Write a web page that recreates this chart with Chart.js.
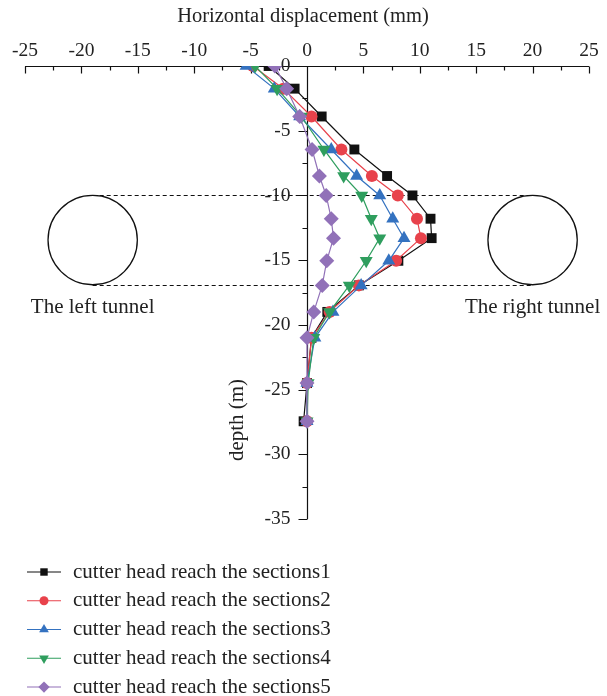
<!DOCTYPE html>
<html>
<head>
<meta charset="utf-8">
<title>Horizontal displacement</title>
<script src="https://cdn.jsdelivr.net/npm/chart.js@4.4.1/dist/chart.umd.min.js"></script>
<style>
  html, body { margin: 0; padding: 0; background: #fff; }
  #wrap { width: 607px; height: 696px; }
</style>
</head>
<body>
<div id="wrap"><canvas id="chart" width="607" height="696"></canvas></div>
<script>
// --- DONNÉES ---

// profondeur des points de mesure (m)
const depths = [0, -1.75, -3.9, -6.45, -8.5, -10, -11.8, -13.3, -15.05, -16.95, -19, -21, -24.5, -27.45];

// déplacement horizontal (mm) pour chaque position du tunnelier
const sections1 = [-3.4, -1.1, 1.3, 4.2, 7.1, 9.35, 10.95, 11.05, 8.1, 4.6, 1.8, 0.4, 0, -0.3];
const sections2 = [-4.8, -2.1, 0.4, 3.05, 5.75, 8.05, 9.75, 10.1, 7.9, 4.6, 2.0, 0.4, 0, 0];
const sections3 = [-5.4, -2.9, -0.65, 2.15, 4.4, 6.45, 7.6, 8.6, 7.25, 4.8, 2.3, 0.7, 0, 0];
const sections4 = [-4.6, -2.65, -0.5, 1.5, 3.25, 4.85, 5.7, 6.45, 5.25, 3.75, 2.0, 0.6, 0.1, 0];
const sections5 = [-2.85, -1.8, -0.65, 0.45, 1.1, 1.7, 2.15, 2.35, 1.75, 1.35, 0.6, 0, 0, 0];

const seriesNames = [
  "cutter head reach the sections1",
  "cutter head reach the sections2",
  "cutter head reach the sections3",
  "cutter head reach the sections4",
  "cutter head reach the sections5"
];

const xTicks = [-25, -20, -15, -10, -5, 0, 5, 10, 15, 20, 25];
const yTicks = [0, -5, -10, -15, -20, -25, -30, -35];

// tunnels : centre horizontal (mm), haut et bas (m)
const tunnelCentres = [-19, 20];
const tunnelTop = -10;
const tunnelBottom = -16.9;
const tunnelNames = ["The left tunnel", "The right tunnel"];

// --- STYLES ---

const SERIF = "'Liberation Serif', 'DejaVu Serif', serif";
const colors = ["#111111", "#e8424b", "#3472c0", "#2f9e5e", "#9171b8"];
const pointStyles = ["rect", "circle", "triangle", "triangle", "rectRot"];
const pointRotations = [0, 0, 0, 180, 0];
const pointRadii = [7, 6, 7.5, 7.5, 7.5];

const allSeries = [sections1, sections2, sections3, sections4, sections5];

const datasets = allSeries.map((vals, i) => ({
  label: seriesNames[i],
  data: vals.map((v, k) => ({ x: v, y: depths[k] })),
  borderColor: colors[i],
  backgroundColor: colors[i],
  borderWidth: 1.2,
  pointStyle: pointStyles[i],
  pointRotation: pointRotations[i],
  pointRadius: pointRadii[i],
  pointBorderWidth: 0,
  order: allSeries.length - i,
  tension: 0
}));

// --- DESSIN DES AXES, TUNNELS ET LÉGENDE ---

const crisp = v => Math.round(v) + 0.5;

function drawAxes(chart) {
  const { ctx, scales: { x, y } } = chart;
  const yTop = crisp(y.getPixelForValue(0));
  const xLeft = x.getPixelForValue(xTicks[0]);
  const xRight = x.getPixelForValue(xTicks[xTicks.length - 1]);
  const xZero = crisp(x.getPixelForValue(0));
  const yBottom = y.getPixelForValue(yTicks[yTicks.length - 1]);

  ctx.save();
  ctx.strokeStyle = "#111";
  ctx.fillStyle = "#222";
  ctx.lineWidth = 1.2;

  // axe horizontal en haut
  ctx.beginPath();
  ctx.moveTo(xLeft, yTop);
  ctx.lineTo(xRight, yTop);
  xTicks.forEach((t, i) => {
    const px = crisp(x.getPixelForValue(t));
    ctx.moveTo(px, yTop);
    ctx.lineTo(px, yTop + 7);
    if (i < xTicks.length - 1) {
      const mx = crisp(x.getPixelForValue((t + xTicks[i + 1]) / 2));
      ctx.moveTo(mx, yTop);
      ctx.lineTo(mx, yTop + 4);
    }
  });

  // axe vertical à x = 0
  ctx.moveTo(xZero, yTop);
  ctx.lineTo(xZero, yBottom);
  yTicks.forEach((t, i) => {
    const py = crisp(y.getPixelForValue(t));
    ctx.moveTo(xZero, py);
    ctx.lineTo(xZero - 9, py);
    if (i < yTicks.length - 1) {
      const my = crisp(y.getPixelForValue((t + yTicks[i + 1]) / 2));
      ctx.moveTo(xZero, my);
      ctx.lineTo(xZero - 5, my);
    }
  });
  ctx.stroke();

  // libellés
  ctx.font = "19.5px " + SERIF;
  ctx.textAlign = "center";
  ctx.textBaseline = "middle";
  xTicks.forEach(t => ctx.fillText(String(t), x.getPixelForValue(t), yTop - 16));
  ctx.textAlign = "right";
  yTicks.forEach(t => ctx.fillText(String(t), xZero - 17, y.getPixelForValue(t)));

  ctx.font = "20.5px " + SERIF;
  ctx.textAlign = "center";
  ctx.fillText("Horizontal displacement (mm)", 303, 17);

  ctx.font = "21px " + SERIF;
  ctx.translate(237, 420);
  ctx.rotate(-Math.PI / 2);
  ctx.fillText("depth (m)", 0, 0);
  ctx.restore();
}

function drawTunnels(chart) {
  const { ctx, scales: { x, y } } = chart;
  const top = y.getPixelForValue(tunnelTop);
  const bottom = y.getPixelForValue(tunnelBottom);
  const r = (bottom - top) / 2;
  const cy = top + r;
  const left = x.getPixelForValue(tunnelCentres[0]);
  const right = x.getPixelForValue(tunnelCentres[1]);

  ctx.save();
  ctx.strokeStyle = "#111";
  ctx.lineWidth = 1.1;
  ctx.setLineDash([4, 3]);
  ctx.beginPath();
  ctx.moveTo(left, crisp(top));
  ctx.lineTo(right, crisp(top));
  ctx.moveTo(left, crisp(bottom));
  ctx.lineTo(right, crisp(bottom));
  ctx.stroke();

  ctx.setLineDash([]);
  ctx.lineWidth = 1.3;
  tunnelCentres.forEach(c => {
    ctx.beginPath();
    ctx.arc(x.getPixelForValue(c), cy, r, 0, Math.PI * 2);
    ctx.stroke();
  });

  ctx.fillStyle = "#222";
  ctx.font = "21px " + SERIF;
  ctx.textAlign = "center";
  ctx.textBaseline = "middle";
  tunnelCentres.forEach((c, i) => ctx.fillText(tunnelNames[i], x.getPixelForValue(c), bottom + 23));
  ctx.restore();
}

function drawLegend(chart) {
  const ctx = chart.ctx;
  ctx.save();
  ctx.font = "21px " + SERIF;
  ctx.textAlign = "left";
  ctx.textBaseline = "middle";
  seriesNames.forEach((name, i) => {
    const ry = 572 + i * 28.75;
    ctx.strokeStyle = colors[i];
    ctx.fillStyle = colors[i];
    ctx.lineWidth = 1.2;
    ctx.beginPath();
    ctx.moveTo(27, ry);
    ctx.lineTo(61, ry);
    ctx.stroke();
    Chart.helpers.drawPoint(ctx, {
      pointStyle: pointStyles[i],
      rotation: pointRotations[i],
      radius: pointRadii[i] * 0.75,
      borderWidth: 0
    }, 44, ry);
    ctx.fillStyle = "#222";
    ctx.fillText(name, 73, ry);
  });
  ctx.restore();
}

const decorPlugin = {
  id: "decor",
  beforeDatasetsDraw(chart) {
    drawTunnels(chart);
    drawAxes(chart);
  },
  afterDraw(chart) {
    drawLegend(chart);
  }
};

new Chart(document.getElementById("chart"), {
  type: "line",
  data: { datasets },
  options: {
    responsive: false,
    animation: false,
    layout: { padding: { left: 25, right: 18, top: 66, bottom: 177 } },
    scales: {
      x: { type: "linear", min: -25, max: 25, display: false },
      y: { type: "linear", min: -35, max: 0, display: false }
    },
    plugins: { legend: { display: false }, tooltip: { enabled: false } },
    elements: { line: { fill: false } }
  },
  plugins: [decorPlugin]
});
</script>
</body>
</html>
